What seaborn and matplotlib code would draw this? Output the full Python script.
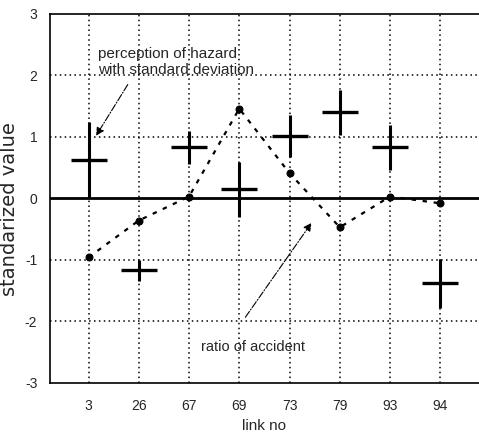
import numpy as np
import pandas as pd
import matplotlib
matplotlib.use("Agg")
from matplotlib import pyplot as plt
import seaborn as sns

sns.set_style("white")
plt.rcParams["font.family"] = ["Liberation Sans", "DejaVu Sans"]

links = ["3", "26", "67", "69", "73", "79", "93", "94"]
hazard_mean = [0.62, -1.17, 0.83, 0.15, 1.02, 1.40, 0.83, -1.38]
hazard_sd = [0.62, 0.17, 0.27, 0.45, 0.34, 0.37, 0.37, 0.40]
accident_ratio = [-0.96, -0.36, 0.03, 1.46, 0.41, -0.47, 0.03, -0.08]

df = pd.DataFrame({
    "pos": np.arange(len(links)),
    "link": links,
    "hazard": hazard_mean,
    "sd": hazard_sd,
    "ratio": accident_ratio,
})

fig = plt.figure(figsize=(4.79, 4.37), dpi=100)
ax = fig.add_axes([0.104, 0.124, 0.896, 0.844])

# grid
for p in df["pos"]:
    ax.axvline(p, color="black", lw=1.1, ls=(0, (1, 2.2)), zorder=1)
for v in [-2, -1, 1, 2]:
    ax.axhline(v, color="black", lw=1.1, ls=(0, (1, 2.2)), zorder=1)
ax.axhline(0, color="black", lw=2, zorder=2)

# ratio of accident
sns.lineplot(data=df, x="pos", y="ratio", ax=ax, color="black", lw=1.6,
             linestyle=(0, (2, 3)), marker="o", markersize=5,
             markeredgecolor="black", zorder=3)

# perception of hazard with sd
ax.errorbar(df["pos"], df["hazard"], yerr=df["sd"], fmt="_", color="black",
            markersize=26, markeredgewidth=2.4, elinewidth=2.2, capsize=0,
            zorder=4)

ax.set_xlim(-0.77, 7.77)
ax.set_ylim(-3, 3)
ax.set_xticks(df["pos"])
ax.set_xticklabels(links)
ax.set_yticks(range(-3, 4))
ax.set_yticklabels([str(v) for v in range(-3, 4)])
ax.tick_params(axis="x", length=0, labelsize=10, pad=12)
ax.tick_params(axis="y", length=0, labelsize=10, pad=9)
ax.set_xlabel("link no", fontsize=11, labelpad=4)
ax.set_ylabel("standarized value", fontsize=14, labelpad=4,
              family=["DejaVu Sans"], y=0.47)
for s in ax.spines.values():
    s.set_color("black")
    s.set_linewidth(1.2)
ax.spines["right"].set_visible(False)

ax.text(0.18, 2.22, "perception of hazard\nwith standard deviation",
        fontsize=11, ha="left", va="center", linespacing=1.2)
ax.annotate("", xy=(0.12, 0.98), xytext=(0.81, 1.89),
            arrowprops=dict(arrowstyle="-|>", color="black", lw=0.8,
                            ls="-.", mutation_scale=12))
ax.text(2.24, -2.41, "ratio of accident", fontsize=10.5, ha="left", va="center")
ax.annotate("", xy=(4.47, -0.36), xytext=(3.09, -1.97),
            arrowprops=dict(arrowstyle="-|>", color="black", lw=0.8,
                            ls="-.", mutation_scale=12))

fig.savefig("out.png", dpi=100)
